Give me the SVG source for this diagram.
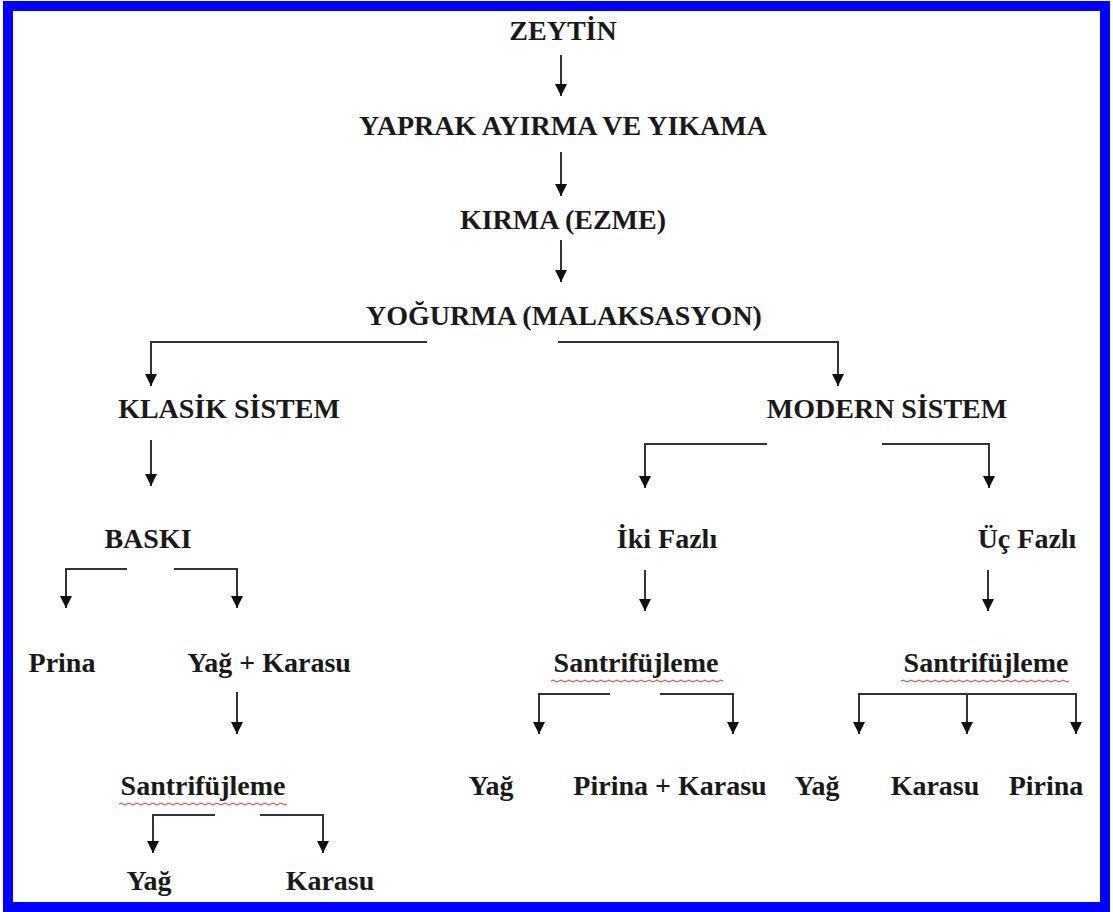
<svg xmlns="http://www.w3.org/2000/svg" width="1113" height="912" viewBox="0 0 1113 912">
<style>
text{font-family:"Liberation Serif","Times New Roman",serif;font-weight:bold;font-size:28px;fill:#1a1a1a}
.c{stroke:#333;stroke-width:2;fill:none}
.a{marker-end:url(#ah)}
.sq{stroke:#e03030;stroke-width:1;fill:none}
</style>
<defs>
<marker id="ah" markerWidth="12" markerHeight="12" refX="12" refY="6" orient="auto" markerUnits="userSpaceOnUse" viewBox="0 0 12 12"><path d="M0,0 L12,6 L0,12 z" fill="#111"/></marker>
</defs>
<rect x="8" y="6" width="1097" height="901" fill="#fff" stroke="#0000ff" stroke-width="10"/>
<g id="connectors">
<path class="c a" d="M561,55 V96"/>
<path class="c a" d="M561,152 V196"/>
<path class="c a" d="M561,240 V282"/>
<path class="c a" d="M427,342 H151 V386"/>
<path class="c a" d="M558,342 H838 V386"/>
<path class="c a" d="M151,440 V486"/>
<path class="c a" d="M767,444 H645 V488"/>
<path class="c a" d="M882,444 H989 V488"/>
<path class="c a" d="M127,569 H66 V608"/>
<path class="c a" d="M174,569 H237 V608"/>
<path class="c a" d="M645,570 V611"/>
<path class="c a" d="M988,570 V611"/>
<path class="c a" d="M237,692 V734"/>
<path class="c a" d="M610,694 H539 V734"/>
<path class="c a" d="M660,694 H733 V734"/>
<path class="c a" d="M967,694 H859 V734"/>
<path class="c a" d="M967,694 V734"/>
<path class="c a" d="M967,694 H1076 V734"/>
<path class="c a" d="M215,815 H153 V853"/>
<path class="c a" d="M260,815 H323 V853"/>
</g>
<g id="n-zeytin"><text x="563" y="40" text-anchor="middle">ZEYTİN</text></g>
<g id="n-yaprak"><text x="563" y="135" text-anchor="middle">YAPRAK AYIRMA VE YIKAMA</text></g>
<g id="n-kirma"><text x="563" y="229" text-anchor="middle">KIRMA (EZME)</text></g>
<g id="n-yogurma"><text x="564" y="325" text-anchor="middle">YOĞURMA (MALAKSASYON)</text></g>
<g id="n-klasik"><text x="229" y="418" text-anchor="middle">KLASİK SİSTEM</text></g>
<g id="n-modern"><text x="887" y="418" text-anchor="middle">MODERN SİSTEM</text></g>
<g id="n-baski"><text x="148" y="548" text-anchor="middle">BASKI</text></g>
<g id="n-iki"><text x="667" y="548" text-anchor="middle">İki Fazlı</text></g>
<g id="n-uc"><text x="1027" y="548" text-anchor="middle">Üç Fazlı</text></g>
<g id="n-prina"><text x="62" y="672" text-anchor="middle">Prina</text></g>
<g id="n-yagkarasu"><text x="269" y="672" text-anchor="middle">Yağ + Karasu</text></g>
<g id="n-santri-iki"><text x="636" y="672" text-anchor="middle">Santrifüjleme</text><path class="sq" d="M551,681 q2,-2 4,0 t4,0 t4,0 t4,0 t4,0 t4,0 t4,0 t4,0 t4,0 t4,0 t4,0 t4,0 t4,0 t4,0 t4,0 t4,0 t4,0 t4,0 t4,0 t4,0 t4,0 t4,0 t4,0 t4,0 t4,0 t4,0 t4,0 t4,0 t4,0 t4,0 t4,0 t4,0 t4,0 t4,0 t4,0 t4,0 t4,0 t4,0 t4,0 t4,0 t4,0 t4,0 t4,0"/></g>
<g id="n-santri-uc"><text x="986" y="672" text-anchor="middle">Santrifüjleme</text><path class="sq" d="M901,681 q2,-2 4,0 t4,0 t4,0 t4,0 t4,0 t4,0 t4,0 t4,0 t4,0 t4,0 t4,0 t4,0 t4,0 t4,0 t4,0 t4,0 t4,0 t4,0 t4,0 t4,0 t4,0 t4,0 t4,0 t4,0 t4,0 t4,0 t4,0 t4,0 t4,0 t4,0 t4,0 t4,0 t4,0 t4,0 t4,0 t4,0 t4,0 t4,0 t4,0 t4,0 t4,0 t4,0"/></g>
<g id="n-santri-klasik"><text x="203" y="795" text-anchor="middle">Santrifüjleme</text><path class="sq" d="M119,804 q2,-2 4,0 t4,0 t4,0 t4,0 t4,0 t4,0 t4,0 t4,0 t4,0 t4,0 t4,0 t4,0 t4,0 t4,0 t4,0 t4,0 t4,0 t4,0 t4,0 t4,0 t4,0 t4,0 t4,0 t4,0 t4,0 t4,0 t4,0 t4,0 t4,0 t4,0 t4,0 t4,0 t4,0 t4,0 t4,0 t4,0 t4,0 t4,0 t4,0 t4,0 t4,0 t4,0"/></g>
<g id="n-yag-iki"><text x="491" y="795" text-anchor="middle">Yağ</text></g>
<g id="n-pirina-karasu"><text x="670" y="795" text-anchor="middle">Pirina + Karasu</text></g>
<g id="n-yag-uc"><text x="817" y="795" text-anchor="middle">Yağ</text></g>
<g id="n-karasu-uc"><text x="935" y="795" text-anchor="middle">Karasu</text></g>
<g id="n-pirina-uc"><text x="1046" y="795" text-anchor="middle">Pirina</text></g>
<g id="n-yag-klasik"><text x="149" y="890" text-anchor="middle">Yağ</text></g>
<g id="n-karasu-klasik"><text x="330" y="890" text-anchor="middle">Karasu</text></g>
</svg>
